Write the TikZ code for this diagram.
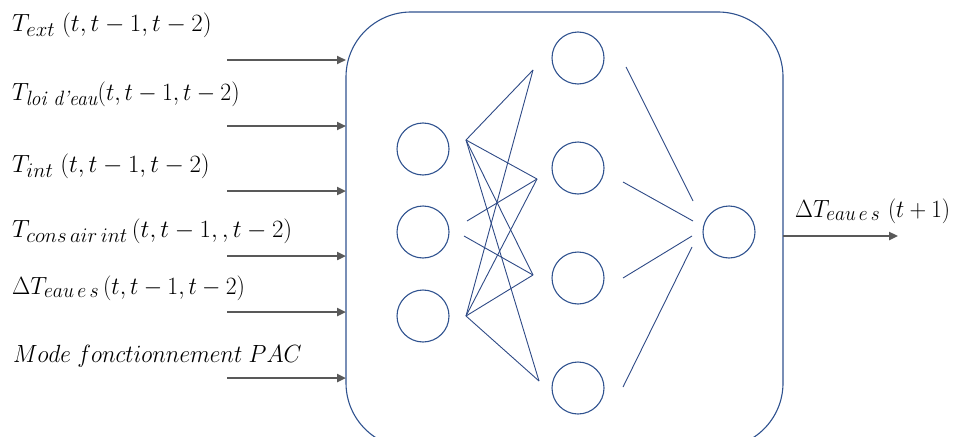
\documentclass[tikz,border=0pt]{standalone}
\usepackage{amsmath}
\usepackage{graphicx}
\usetikzlibrary{arrows.meta}
\definecolor{boxblue}{HTML}{2F528F}
\definecolor{linkblue}{HTML}{2E4A86}
\definecolor{arrgray}{HTML}{595959}
\begin{document}
\begin{tikzpicture}[x=1pt,y=-1pt,
  neuron/.style={circle,draw=boxblue,line width=1.1pt,minimum size=52pt,inner sep=0pt},
  link/.style={draw=linkblue,line width=0.9pt},
  inarrow/.style={draw=arrgray,line width=2.8pt,-{Triangle[length=9pt,width=8pt]}},
  lbl/.style={anchor=base west,inner sep=0pt,font=\fontsize{24.88}{28}\selectfont}]
\useasboundingbox (0,0) rectangle (957,436);
\clip (0,0) rectangle (957,436);
% main box
\draw[boxblue,line width=1.1pt,rounded corners=65pt] (346,12) rectangle (783,448);
% neurons
\node[neuron] (i1) at (423,149) {};
\node[neuron] (i2) at (423,232) {};
\node[neuron] (i3) at (423,316) {};
\node[neuron] (h1) at (578,58) {};
\node[neuron] (h2) at (578,168) {};
\node[neuron] (h3) at (578,278) {};
\node[neuron] (h4) at (578,388) {};
\node[neuron] (o) at (729,232) {};
% link end points
\coordinate (a) at (466,140);
\coordinate (c) at (466,316);
\coordinate (bm1) at (467,221);
\coordinate (bm2) at (464,236);
\coordinate (p1) at (533,70);
\coordinate (p2) at (537,179);
\coordinate (p3) at (533,275);
\coordinate (p4) at (539,381);
\foreach \s in {a,c}{\foreach \t in {p1,p2,p3,p4}{\draw[link] (\s) -- (\t);}}
\draw[link] (bm1) -- (p2);
\draw[link] (bm2) -- (p3);
\coordinate (q1) at (626,67);  \coordinate (r1) at (693,201);
\coordinate (q2) at (623,182); \coordinate (r2) at (693,221);
\coordinate (q3) at (623,278); \coordinate (r3) at (692,236);
\coordinate (q4) at (623,387); \coordinate (r4) at (692,247);
\foreach \k in {1,2,3,4}{\draw[link] (q\k) -- (r\k);}
% input arrows
\foreach \y [count=\k] in {60,126,191,256,312,378}{
  \coordinate (s\k) at (227,\y);
  \coordinate (e\k) at (346,\y);
  \draw[inarrow] (s\k) -- (e\k);
}
% output arrow
\coordinate (os) at (783,236);
\coordinate (oe) at (898,236);
\draw[inarrow] (os) -- (oe);
% labels
\node[lbl] (l1) at (12,32) {$T_{ext}\;(t,t-1,t-2)$};
\node[lbl] (l2) at (12,100) {\scalebox{0.95}[1]{$T_{\textit{loi d'eau}}(t,t-1,t-2)$}};
\node[lbl] (l3) at (12,172) {$T_{int}\;(t,t-1,t-2)$};
\node[lbl] (l4) at (12,237) {$T_{cons\,air\,int}\,(t,t-1,,t-2)$};
\node[lbl] (l5) at (12,294) {\scalebox{0.95}[1]{$\Delta T_{eau\,e\,s}\,(t,t-1,t-2)$}};
\node[lbl] (l6) at (13,362) {\scalebox{0.935}[1]{$Mode\;fonctionnement\;PAC$}};
\node[lbl] (lo) at (795,217) {\scalebox{0.93}[1]{$\Delta T_{eau\,e\,s}\,\,(t+1)$}};
\end{tikzpicture}
\end{document}
